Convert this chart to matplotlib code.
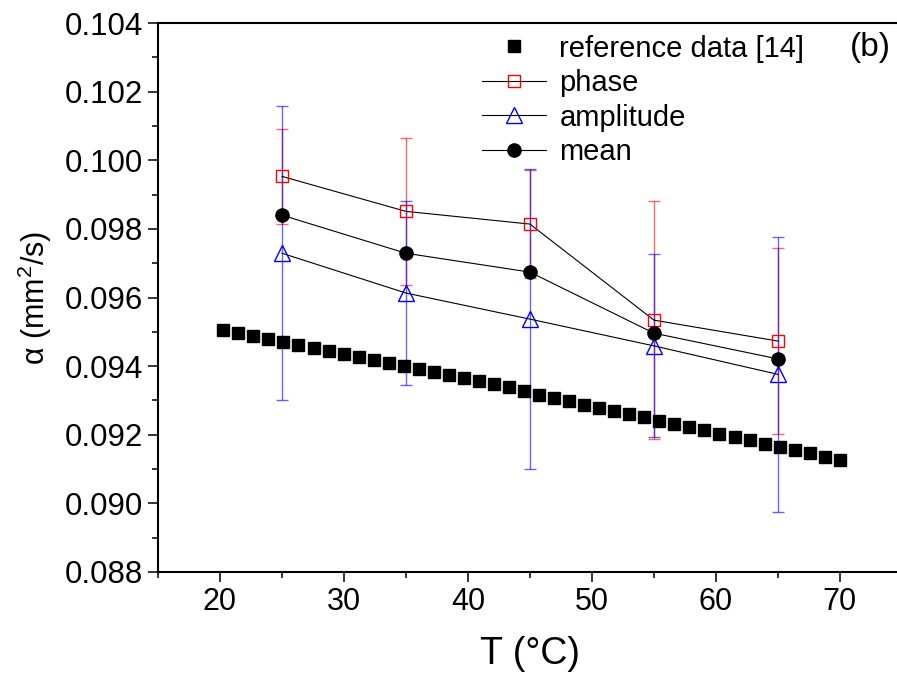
import matplotlib
matplotlib.use('Agg')
import matplotlib.pyplot as plt
from matplotlib.ticker import MultipleLocator, FormatStrFormatter

plt.rcParams['font.family'] = ['Liberation Sans', 'DejaVu Sans']
plt.rcParams['mathtext.fontset'] = 'custom'
plt.rcParams['mathtext.rm'] = 'Liberation Sans'

# reference data [14]
T_ref = [20.27, 21.48, 22.70, 23.91, 25.12, 26.33, 27.55, 28.76, 29.97, 31.18,
         32.40, 33.61, 34.82, 36.03, 37.25, 38.46, 39.67, 40.88, 42.10, 43.31,
         44.52, 45.73, 46.95, 48.16, 49.37, 50.58, 51.80, 53.01, 54.22, 55.43,
         56.65, 57.86, 59.07, 60.28, 61.50, 62.71, 63.92, 65.13, 66.35, 67.56,
         68.77, 69.98]
a_ref = [0.09505, 0.09497, 0.09488, 0.09479, 0.09471, 0.09462, 0.09453, 0.09444,
         0.09435, 0.09427, 0.09418, 0.09409, 0.09400, 0.09392, 0.09383, 0.09374,
         0.09365, 0.09357, 0.09348, 0.09339, 0.09328, 0.09316, 0.09308, 0.09298,
         0.09288, 0.09279, 0.09269, 0.09260, 0.09251, 0.09241, 0.09231, 0.09222,
         0.09213, 0.09203, 0.09194, 0.09185, 0.09174, 0.09165, 0.09156, 0.09146,
         0.09136, 0.09126]

# measurements
T_meas = [25, 35, 45, 55, 65]
a_phase = [0.09953, 0.09851, 0.09814, 0.09534, 0.09473]
err_phase = [0.00139, 0.00215, 0.00157, 0.00347, 0.00270]
a_amp = [0.09729, 0.09613, 0.09537, 0.09459, 0.09376]
err_amp = [0.00428, 0.00267, 0.00438, 0.00267, 0.00401]
a_mean = [0.09840, 0.09729, 0.09674, 0.09496, 0.09421]

fig = plt.figure(figsize=(8.97, 6.79), dpi=100)
ax = fig.add_axes([0.1761, 0.1576, 0.8294, 0.8085])

# error bars first, drawn light
ax.errorbar(T_meas, a_phase, yerr=err_phase, fmt='none', ecolor='#ff0000',
            elinewidth=1.0, capsize=4.3, capthick=1.0, alpha=0.6, zorder=2)
ax.errorbar(T_meas, a_amp, yerr=err_amp, fmt='none', ecolor='#0000ff',
            elinewidth=1.0, capsize=4.3, capthick=1.0, alpha=0.6, zorder=2)

ax.plot(T_ref, a_ref, 's', color='black', ms=8, ls='none',
        label='reference data [14]', zorder=3)
ax.plot(T_meas, a_phase, '-s', color='black', lw=0.8, ms=8,
        mfc='none', mec='#ff0000', mew=1.0, label='phase', zorder=4)
ax.plot(T_meas, a_amp, '-^', color='black', lw=0.8, ms=11,
        mfc='none', mec='#0000ff', mew=1.0, label='amplitude', zorder=4)
ax.plot(T_meas, a_mean, '-o', color='black', lw=0.8, ms=9.5,
        mfc='black', mec='black', label='mean', zorder=4)

ax.set_xlim(15, 75)
ax.set_ylim(0.088, 0.104)
ax.xaxis.set_major_locator(MultipleLocator(10))
ax.xaxis.set_minor_locator(MultipleLocator(5))
ax.yaxis.set_major_locator(MultipleLocator(0.002))
ax.yaxis.set_minor_locator(MultipleLocator(0.001))
ax.yaxis.set_major_formatter(FormatStrFormatter('%.3f'))

ax.tick_params(which='major', direction='out', length=7, width=1.1, labelsize=22)
ax.tick_params(axis='y', which='major', labelsize=22.5)
ax.tick_params(which='minor', direction='out', length=4, width=1.1)
ax.tick_params(top=False, right=False)
for s in ax.spines.values():
    s.set_linewidth(1.5)
ax.spines['right'].set_visible(False)

ax.set_xlabel('T (°C)', fontsize=27, labelpad=14)
ax.set_ylabel('α (mm$^2$/s)', fontsize=22, labelpad=8)

ax.legend(loc='upper left', bbox_to_anchor=(0.42, 1.0), frameon=False,
          fontsize=21, handlelength=2.2, handletextpad=0.45, labelspacing=0.22,
          borderaxespad=0)
ax.text(0.958, 0.955, '(b)', transform=ax.transAxes, fontsize=24,
        ha='center', va='center')

fig.savefig('out.png', dpi=100)
